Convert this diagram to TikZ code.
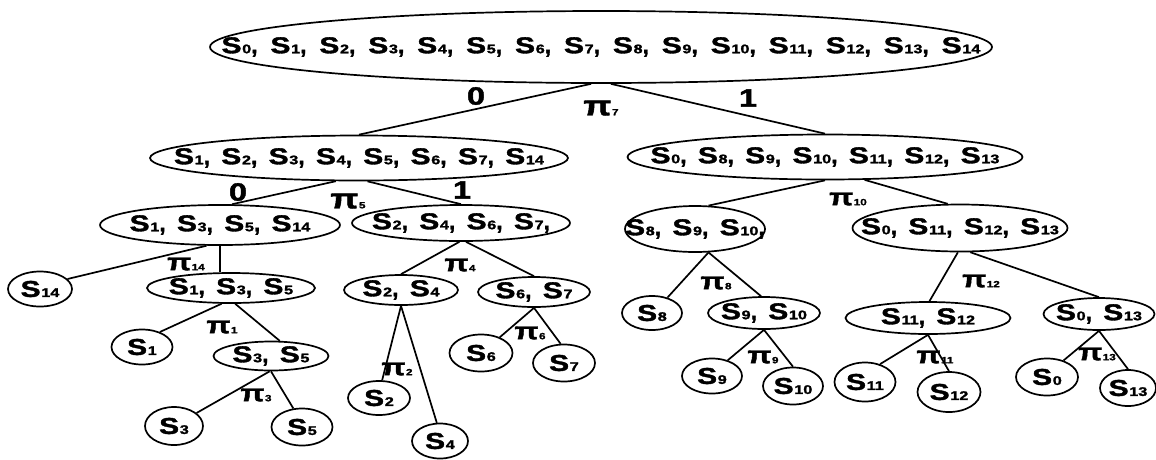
\documentclass[tikz,border=0pt]{standalone}
\usepackage{fontspec}
\usepackage{graphicx}
\usetikzlibrary{shapes.geometric}
\newfontfamily\treefont[BoldFeatures={FakeBold=1.5}]{Liberation Sans}
\def\sgap{11.3pt}
% wide letters, as in the drawing
\newcommand\wide[1]{\scalebox{1.3}[1]{#1}}
% a state with its index, a split with its index
\newcommand\Sn[1]{\wide{S\kern0.5pt{\fontsize{12.5}{13}\selectfont#1}}}
\newcommand\Pn[1]{\wide{π\kern0.5pt{\fontsize{9}{10}\selectfont#1}}}
% a list of states, set into a box of no width
\newcommand\slist[2][]{\makebox[0pt]{\foreach \k [count=\i] in {#2}{\ifnum\i>1 ,\hspace{\sgap}\fi\Sn{\k}}#1}}
\tikzset{
  subset/.style={ellipse, draw, line width=1.7pt, inner sep=0pt,
    font=\treefont\bfseries\fontsize{23}{25}\selectfont},
  sz/.style 2 args={minimum width=#1pt, minimum height=#2pt},
  branch/.style={line width=1.7pt},
  bitlabel/.style={inner sep=0pt, font=\treefont\bfseries\fontsize{25}{26}\selectfont},
  splitlabel/.style={inner sep=0pt, font=\treefont\bfseries\fontsize{24}{26}\selectfont},
  bigsplit/.style={splitlabel, font=\treefont\bfseries\fontsize{28}{30}\selectfont}
}

\begin{document}
\begin{tikzpicture}[x=1pt, y=-1pt]
\useasboundingbox (0,0) rectangle (1156,459);
% the whole set
\node[subset, sz={782}{72}, execute at begin node={\def\sgap{12.9pt}}] (root) at (601,47) {\slist{0,...,14}};
% first level
\node[subset, sz={418}{45}] (L) at (359,158) {\slist{1,2,3,4,5,6,7,14}};
\node[subset, sz={395}{45}] (R) at (825,157) {\slist{0,8,9,10,11,12,13}};
% second level
\node[subset, sz={240}{40}] (LL) at (220,225) {\slist{1,3,5,14}};
\node[subset, sz={218}{36}] (LR) at (461,223) {\slist[,]{2,4,6,7}};
\node[subset, sz={140}{46}] (RL) at (695,229) {\slist[,]{8,9,10}};
\node[subset, sz={215}{47}] (RR) at (960,228) {\slist{0,11,12,13}};
% third level
\node[subset, sz={64}{35}] (s14) at (40,289) {\Sn{14}};
\node[subset, sz={168}{30}] (s135) at (231,288) {\slist{1,3,5}};
\node[subset, sz={114}{30}] (s24) at (401,290) {\slist{2,4}};
\node[subset, sz={112}{30}] (s67) at (534,292) {\slist{6,7}};
\node[subset, sz={60}{34}] (s8) at (652,313) {\Sn{8}};
\node[subset, sz={112}{32}] (s910) at (764,313) {\slist{9,10}};
\node[subset, sz={165}{32}] (s1112) at (928,318) {\slist{11,12}};
\node[subset, sz={111}{32}] (s013) at (1099,314) {\slist{0,13}};
% fourth level
\node[subset, sz={61}{35}] (s1) at (142,347) {\Sn{1}};
\node[subset, sz={115}{29}] (s35) at (271,356) {\slist{3,5}};
\node[subset, sz={62}{34}] (s2) at (379,398) {\Sn{2}};
\node[subset, sz={56}{35}] (s4) at (440,441) {\Sn{4}};
\node[subset, sz={63}{37}] (s6) at (481,353) {\Sn{6}};
\node[subset, sz={62}{37}] (s7) at (564,363) {\Sn{7}};
\node[subset, sz={60}{35}] (s9) at (712,376) {\Sn{9}};
\node[subset, sz={60}{37}] (s10) at (793,386) {\Sn{10}};
\node[subset, sz={61}{39}] (s11) at (865,382) {\Sn{11}};
\node[subset, sz={63}{40}] (s12) at (949,392) {\Sn{12}};
\node[subset, sz={62}{37}] (s0) at (1047,377) {\Sn{0}};
\node[subset, sz={56}{36}] (s13) at (1128,388) {\Sn{13}};
% last level
\node[subset, sz={58}{38}] (s3) at (174,426) {\Sn{3}};
\node[subset, sz={61}{37}] (s5) at (302,427) {\Sn{5}};
% the branches
\draw[branch] (root.255) -- (L.north);
\draw[branch] (root.285) -- (R.north);
\draw[branch] (L.225) -- (LL.60);
\draw[branch] (L.290) -- (LR.north);
\draw[branch] (R.south) -- (RL.60);
\draw[branch] (R.330) -- (RR.117);
\draw[branch] (LL.237) -- (s14.20);
\draw[branch] (LL.south) -- (LL.south |- s135.north);
\draw[branch] (s135.239) -- (s1.40);
\draw[branch] (s135.285) -- (s35.60);
\draw[branch] (s35.265) -- (s3.30);
\draw[branch] (s35.south) -- (s5.115);
\draw[branch] (LR.265) -- (s24.north);
\draw[branch] (LR.285) -- (s67.north);
\draw[branch] (s24.south) -- (s2.80);
\draw[branch] (s24.south) -- (s4.100);
\draw[branch] (s67.south) -- (s6.40);
\draw[branch] (s67.south) -- (s7.100);
\draw[branch] (RL.300) -- (s8.45);
\draw[branch] (RL.300) -- (s910.100);
\draw[branch] (s910.south) -- (s9.45);
\draw[branch] (s910.south) -- (s10.north);
\draw[branch] (RR.265) -- (s1112.85);
\draw[branch] (RR.293) -- (s013.north);
\draw[branch] (s1112.south) -- (s11.50);
\draw[branch] (s1112.south) -- (s12.north);
\draw[branch] (s013.south) -- (s0.45);
\draw[branch] (s013.south) -- (s13.north);
% the bits
\node[bitlabel] (b0) at (476,96) {\wide{0}};
\node[bitlabel] (b1) at (748,98) {\wide{1}};
\node[bitlabel] (c0) at (238,192) {\wide{0}};
\node[bitlabel] (c1) at (462,190) {\wide{1}};
% the splits
\node[bigsplit] (p7) at (601,108) {\Pn{7}};
\node[bigsplit] (p5) at (348,201) {\Pn{5}};
\node[splitlabel] (p10) at (848,199) {\Pn{10}};
\node[splitlabel] (p14) at (186,264) {\Pn{14}};
\node[splitlabel] (p4) at (460,265) {\Pn{4}};
\node[splitlabel] (p1) at (222,327) {\Pn{1}};
\node[splitlabel] (p3) at (256,395) {\Pn{3}};
\node[splitlabel] (p2) at (397,369) {\Pn{2}};
\node[splitlabel] (p6) at (530,333) {\Pn{6}};
\node[splitlabel] (p8) at (716,283) {\Pn{8}};
\node[splitlabel] (p9) at (763,357) {\Pn{9}};
\node[splitlabel] (p12) at (981,281) {\Pn{12}};
\node[splitlabel] (p11) at (935,357) {\Pn{11}};
\node[splitlabel] (p13) at (1097,354) {\Pn{13}};
\end{tikzpicture}
\end{document}
